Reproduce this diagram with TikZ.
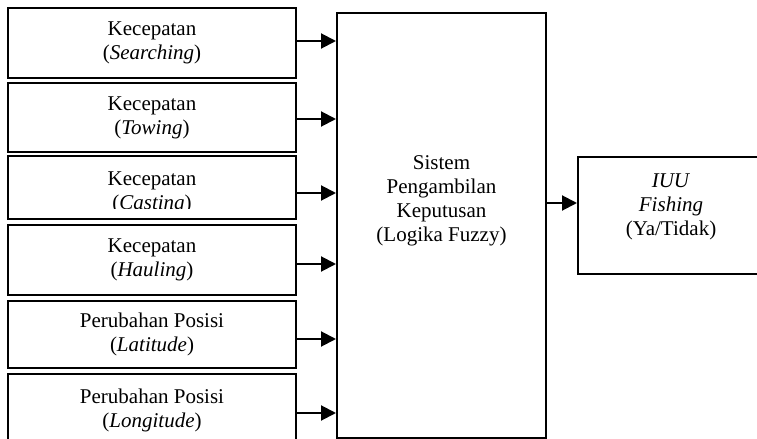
\documentclass[tikz,border=0pt]{standalone}
\usepackage{fontspec}
\setmainfont{Liberation Serif}
\usetikzlibrary{arrows.meta}
\tikzset{inbox/.style = {shape=rectangle,draw,line width=1pt,minimum width=144pt,inner sep=0pt,align=center,anchor=north west}}
\tikzset{lbl/.style = {align=center,inner sep=0pt}}
\tikzset{flow/.style = {-{Triangle[length=7.5pt,width=7.5pt]},line width=1pt}}

\begin{document}
\begin{tikzpicture}[x=0.5pt,y=-0.5pt,font=\fontsize{10.5}{12}\selectfont]
        \useasboundingbox (0,0) rectangle (757,439);
        \clip (0,0) rectangle (757,439);

        \node[inbox,minimum height=35pt] (srch) at (7,7) {Kecepatan\\(\textit{Searching})};
        \node[inbox,minimum height=34.5pt] (tow) at (7,82) {Kecepatan\\(\textit{Towing})};
        \node[inbox,minimum height=31.5pt] (cast) at (7,155) {};
        \begin{scope}
          \clip (cast.north west) rectangle ([yshift=6pt]cast.south east);
          \node[lbl] (castlbl) at ([yshift=-2.5pt]cast.center) {Kecepatan\\(\textit{Casting})};
        \end{scope}
        \node[inbox,minimum height=35pt] (haul) at (7,224) {Kecepatan\\(\textit{Hauling})};
        \node[inbox,minimum height=33.5pt] (lat) at (7,300) {Perubahan Posisi\\(\textit{Latitude})};
        \node[inbox,minimum height=36pt] (lon) at (7,373) {Perubahan Posisi\\(\textit{Longitude})};

        \node[inbox,minimum width=104.5pt,minimum height=212.5pt] (sys) at (336,12) {};
        \node[lbl] (syslbl) at ([yshift=12.5pt]sys.center) {Sistem\\Pengambilan\\Keputusan\\(Logika Fuzzy)};

        \node[inbox,minimum width=93pt,minimum height=58.5pt] (iuu) at (577,156) {};
        \node[lbl] (iuulbl) at ([yshift=4.5pt]iuu.center) {\textit{IUU}\\\textit{Fishing}\\(Ya/Tidak)};

        \draw[flow] ([yshift=1pt]srch.east) -- ([yshift=1pt]srch.east -| sys.west);
        \draw[flow] ([yshift=-0.75pt]tow.east) -- ([yshift=-0.75pt]tow.east -| sys.west);
        \draw[flow] ([yshift=-2.75pt]cast.east) -- ([yshift=-2.75pt]cast.east -| sys.west);
        \draw[flow] ([yshift=-2pt]haul.east) -- ([yshift=-2pt]haul.east -| sys.west);
        \draw[flow] ([yshift=-2.25pt]lat.east) -- ([yshift=-2.25pt]lat.east -| sys.west);
        \draw[flow] ([yshift=-1.5pt]lon.east) -- ([yshift=-1.5pt]lon.east -| sys.west);
        \draw[flow] ([yshift=11.25pt]sys.east) -- ([yshift=11.25pt]sys.east -| iuu.west);
      \end{tikzpicture}
\end{document}
